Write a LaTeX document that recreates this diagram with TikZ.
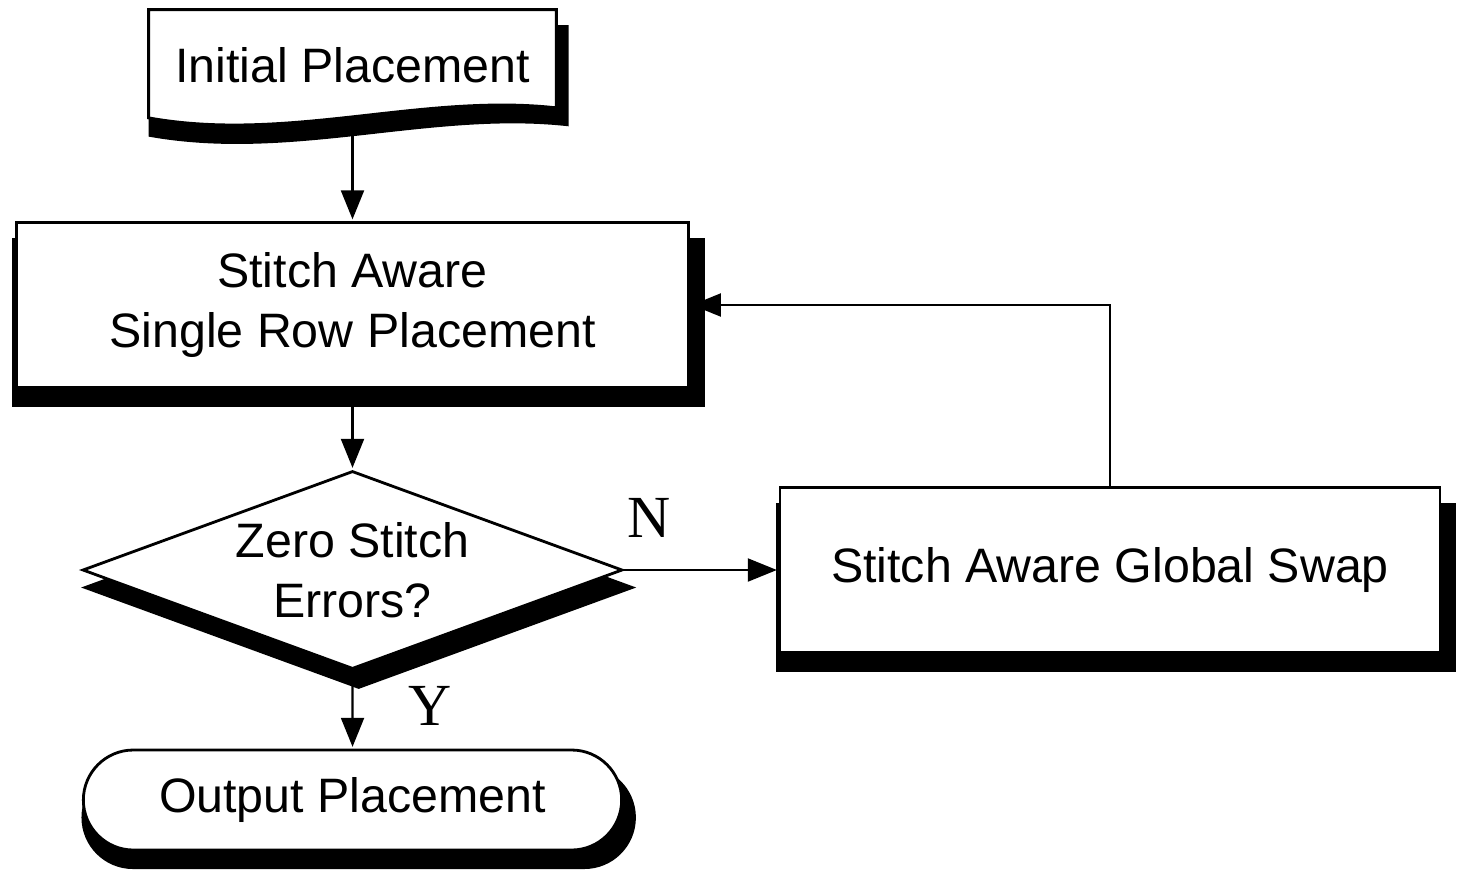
\documentclass[tikz,border=0pt]{standalone}
\usepackage{fontspec}
\setmainfont{Liberation Sans}
\newfontfamily\yesnofont{Liberation Serif}
\usetikzlibrary{positioning, arrows.meta, shapes.geometric, shapes.misc, shadows, calc, backgrounds}

\tikzset{
    blk/.style={general shadow={fill=black, shadow scale=1.03, shadow xshift=0.12cm, shadow yshift=-0.34cm}},
    box/.style={draw, line width=1.6pt, fill=white, blk, align=center, minimum width=13.45cm, minimum height=3.3cm},
    decision/.style={diamond, aspect=2.73, draw, line width=1.6pt, fill=white, blk, align=center, inner sep=-2pt, minimum width=10.8cm, minimum height=3.96cm},
    terminal/.style={rounded rectangle, draw, line width=1.6pt, fill=white, blk, minimum width=11cm, minimum height=2cm},
    doc/.style={minimum width=8.14cm, minimum height=2.2cm},
    yn/.style={font=\yesnofont\fontsize{34}{40}\selectfont, inner sep=0pt}
}

\begin{document}
\begin{tikzpicture}[shorten >=1pt, on grid, >={Triangle[length=0.58cm, width=0.46cm]}, font=\fontsize{27.5}{34}\selectfont]
    \useasboundingbox (0,0) rectangle (29.16,-17.46);

    \node[doc] (init) at (7.05,-1.3) {Initial Placement};
    \node[box] (srp) [below=4.8cm of init] {Stitch Aware\\Single Row Placement};
    \node[decision] (zse) [below=5.3cm of srp] {Zero Stitch\\Errors?};
    \node[box, minimum width=13.2cm] (sgs) [right=15.15cm of zse] {Stitch Aware Global Swap};
    \node[terminal] (outp) [below=4.6cm of zse] {Output Placement};

    % sheet with a wavy lower edge behind the first node
    \begin{scope}[on background layer]
        \draw[line width=1.6pt, fill=white, blk]
            (init.north west) -- (init.north east) -- ($(init.south east)+(0,0.25)$)
            .. controls ($(init.south)+(1.4,0.55)$) and ($(init.south)+(-1.3,-0.45)$) ..
            ($(init.south west)+(0,0.05)$) -- cycle;
    \end{scope}

    \path[->, line width=1.2pt]
    (init) edge (srp)
    (srp) edge (zse)
    (zse) edge node[yn, pos=0.16, above=0.62cm] {N} (sgs)
    (zse) edge node[yn, pos=0.45, right=1.1cm] {Y} (outp)
    (sgs) edge[to path={|- (\tikztotarget)}] (srp);
\end{tikzpicture}
\end{document}
